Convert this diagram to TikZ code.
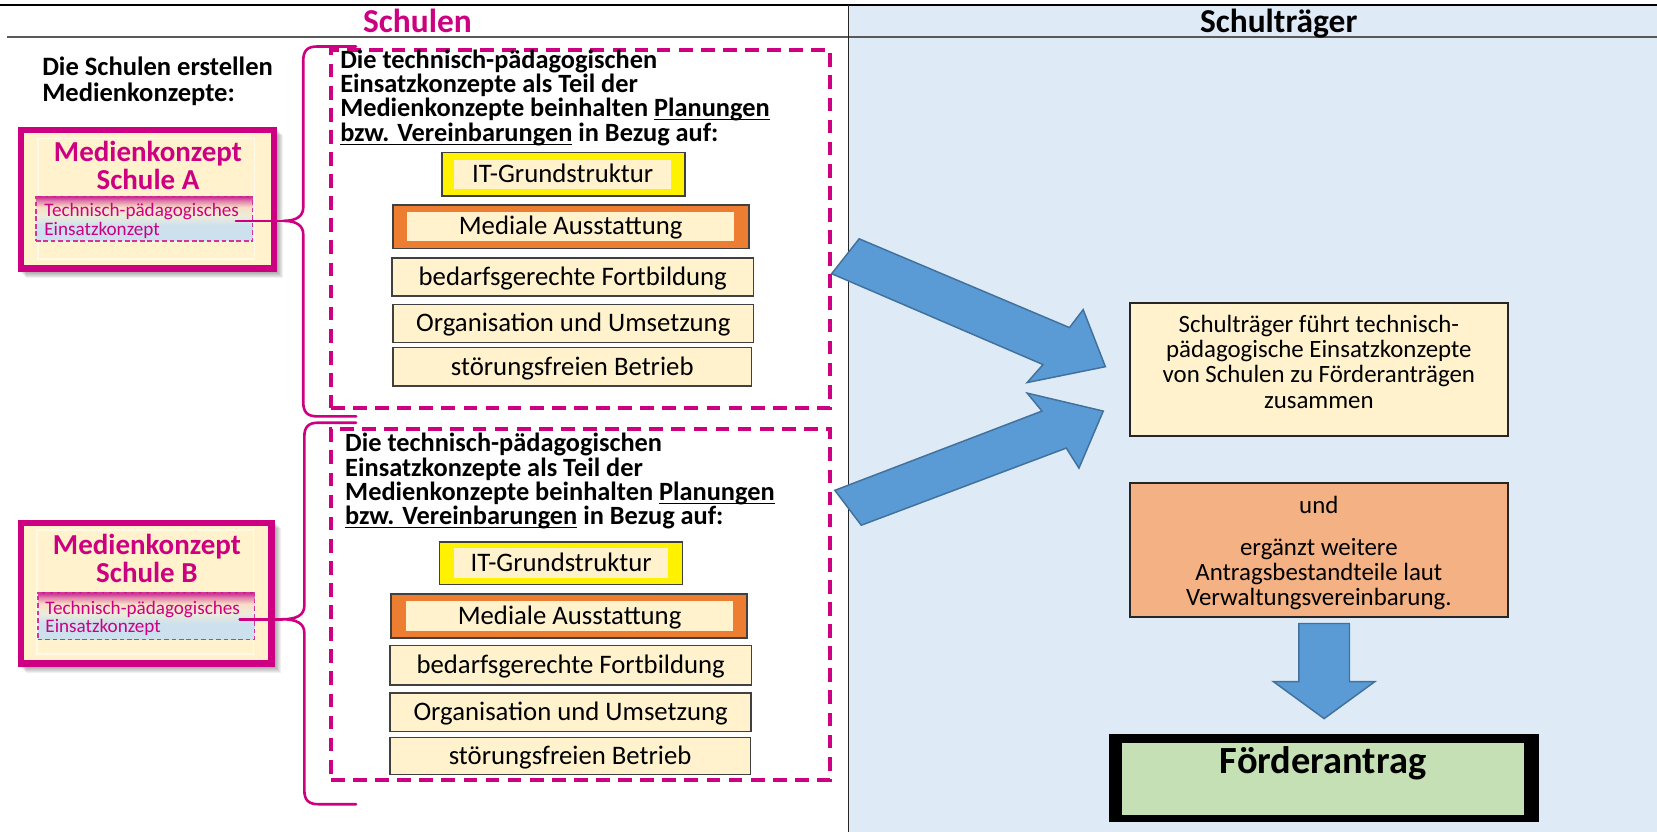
\documentclass[tikz,border=0pt]{standalone}
\usepackage{fontspec}
\setmainfont{Carlito}
\definecolor{mag}{RGB}{204,0,128}
\definecolor{cream}{RGB}{255,242,204}
\definecolor{panelblue}{RGB}{222,235,247}
\definecolor{arrowblue}{RGB}{91,155,213}
\definecolor{arrowedge}{RGB}{65,113,156}
\definecolor{orangeA}{RGB}{237,125,49}
\definecolor{orangebox}{RGB}{244,177,131}
\definecolor{greenbox}{RGB}{197,224,180}
\definecolor{gradblue}{RGB}{205,224,238}
\definecolor{gradpink}{RGB}{200,40,145}
\definecolor{gradmid}{RGB}{236,236,218}
\pgfdeclareverticalshading{techshade}{100bp}{color(0bp)=(gradblue); color(25bp)=(gradblue); color(42bp)=(gradblue); color(53bp)=(gradmid); color(63bp)=(cream!90!gradpink); color(70bp)=(gradpink!55!cream); color(75bp)=(gradpink); color(100bp)=(gradpink)}
\newsavebox{\myulbox}
\newcommand{\myul}[1]{\sbox{\myulbox}{#1}\rlap{\rule[-1.9pt]{\wd\myulbox}{0.7pt}}\usebox{\myulbox}}
\newcommand{\pxu}{0.02cm}
\newcommand{\fixskip}{\lineskiplimit=-30pt\lineskip=0pt}
\newcommand{\fhdr}{\fontsize{18}{20}\selectfont\bfseries}
\newcommand{\fintro}{\fontsize{14.3}{14.2}\selectfont\bfseries\fixskip}
\newcommand{\fblock}{\fontsize{14.2}{13.1}\selectfont\bfseries\fixskip}
\newcommand{\fitem}{\fontsize{14.4}{15}\selectfont}
\newcommand{\fttl}{\fontsize{15.6}{15}\selectfont\bfseries\fixskip}
\newcommand{\ftech}{\fontsize{10.3}{10}\selectfont\fixskip}
\newcommand{\fright}{\fontsize{13.4}{13.6}\selectfont\fixskip}
\newcommand{\ffoerder}{\fontsize{20.7}{22}\selectfont\bfseries}
\begin{document}
\begin{tikzpicture}[x=0.02cm,y=-0.02cm,
  every node/.style={inner sep=0pt, outer sep=0pt},
  hdr/.style={font=\fhdr},
  intro/.style={font=\fintro, align=left},
  blocktxt/.style={font=\fblock, align=left},
  mkbox/.style={draw=mag, line width=3.4pt, fill=cream},
  softshadow/.style={fill=black, opacity=0.06},
  faint/.style={draw=white!55!cream, line width=0.7pt},
  ttl/.style={font=\fttl, text=mag, align=center},
  techbox/.style={draw=mag!80, line width=0.9pt, dash pattern=on 2.5pt off 1.5pt, shading=techshade},
  techtxt/.style={font=\ftech, text=mag, align=left},
  brace/.style={draw=mag, line width=1.4pt, line cap=round, line join=round},
  dashbox/.style={draw=mag, line width=2.2pt, dash pattern=on 7.4pt off 4.5pt},
  itembox/.style={draw=black!75, line width=0.85pt, fill=cream},
  itemtxt/.style={font=\fitem, text height=12pt, text depth=2.9pt},
  rbox/.style={draw=black!85, line width=1.1pt},
  rtxt/.style={font=\fright, align=center},
  bigarrow/.style={fill=arrowblue, draw=arrowedge, line width=0.8pt, line join=miter}
]
\useasboundingbox (0,0) rectangle (1568,787);
% right panel and table lines
\fill[panelblue] (803,4.7) rectangle (1568,787);
\draw[black, line width=0.7pt] (0,4.7) -- (1568,4.7);
\draw[black!65, line width=0.9pt] (7,34.7) -- (1568,34.7);
\draw[black!85, line width=0.7pt] (803,4.7) -- (803,787);
% headers
\node[hdr, text=mag, anchor=base] (hSchulen) at (395,30.7) {Schulen};
\node[hdr, anchor=base] (hTraeger) at (1210,30.7) {Schulträger};
% intro (base = last line)
\node[intro, anchor=base west] (intro) at (40,96) {Die Schulen erstellen\\Medienkonzepte:};

% soft shadows of the two Medienkonzept boxes
\foreach \s in {1,2,...,7} {
  \fill[softshadow] (18+\s,121+\s) rectangle (261+\s,256+\s);
  \fill[softshadow] (18+\s,493+\s) rectangle (259+\s,630+\s);
}

% ---- Schule A ----
\node[mkbox, minimum width=239*\pxu, minimum height=131*\pxu] (boxA) at (139.5,188.5) {};
\draw[faint] (36,131) rectangle (241,245);
\node[ttl, anchor=base] (titleA) at (140,178.9) {Medienkonzept\\Schule A};
\node[techbox, minimum width=205*\pxu, minimum height=42*\pxu] (techA) at (136.5,207) {};
\node[techtxt, anchor=base west] (techAtxt) at (42,222.9) {Technisch-pädagogisches\\Einsatzkonzept};
\coordinate (tipA) at (268,209);
\draw[brace] (337,44) -- (300,44) .. controls (291,44) and (287,48) .. (287,57) -- (287,196)
  .. controls (287,205) and (280,209) .. (tipA) .. controls (280,209) and (287,213) .. (287,222)
  -- (287,381) .. controls (287,390) and (291,394) .. (300,394) -- (337,394);
\draw[brace] ([xshift=-9pt]techA.east |- tipA) -- (tipA);
\node[dashbox, minimum width=472*\pxu, minimum height=339*\pxu] (dashA) at (549.2,216.5) {};
\node[blocktxt, anchor=base west] (blockA) at (322,133.7) {Die technisch-pädagogischen\\Einsatzkonzepte als Teil der\\Medienkonzepte beinhalten \myul{Planungen}\\\myul{bzw. Vereinbarungen} in Bezug auf:};
\node[itembox, fill=yellow, minimum width=230*\pxu, minimum height=41*\pxu] (itA) at (533,165) {};
\node[itemtxt, fill=cream, minimum width=205*\pxu, minimum height=28*\pxu] (itAin) at (532.5,165) {IT-Grundstruktur};
\node[itembox, fill=orangeA, minimum width=337*\pxu, minimum height=41*\pxu] (medA) at (540.5,214.5) {};
\node[itemtxt, fill=cream, minimum width=310*\pxu, minimum height=27.4*\pxu] (medAin) at (540,214.3) {Mediale Ausstattung};
\node[itembox, itemtxt, minimum width=342*\pxu, minimum height=36*\pxu] (fortA) at (542,262) {bedarfsgerechte Fortbildung};
\node[itembox, itemtxt, minimum width=341*\pxu, minimum height=36*\pxu] (orgA) at (542.5,306) {Organisation und Umsetzung};
\node[itembox, itemtxt, minimum width=339*\pxu, minimum height=36*\pxu] (betrA) at (541.5,347) {störungsfreien Betrieb};

% ---- Schule B ----
\node[mkbox, minimum width=237*\pxu, minimum height=133*\pxu] (boxB) at (138.5,561.5) {};
\draw[faint] (35,501.5) rectangle (240,619);
\node[ttl, anchor=base] (titleB) at (139,550.9) {Medienkonzept\\Schule B};
\node[techbox, minimum width=205*\pxu, minimum height=44*\pxu] (techB) at (138.3,583) {};
\node[techtxt, anchor=base west] (techBtxt) at (43,598.9) {Technisch-pädagogisches\\Einsatzkonzept};
\coordinate (tipB) at (267,586);
\draw[brace] (337,400) -- (301,400) .. controls (292,400) and (288,404) .. (288,413) -- (288,573)
  .. controls (288,582) and (281,586) .. (tipB) .. controls (281,586) and (288,590) .. (288,599)
  -- (288,748) .. controls (288,757) and (292,761) .. (301,761) -- (337,761);
\draw[brace] ([xshift=-8pt]techB.east |- tipB) -- (tipB);
\node[dashbox, minimum width=472*\pxu, minimum height=332*\pxu] (dashB) at (549.2,572) {};
\node[blocktxt, anchor=base west] (blockB) at (326.7,496.7) {Die technisch-pädagogischen\\Einsatzkonzepte als Teil der\\Medienkonzepte beinhalten \myul{Planungen}\\\myul{bzw. Vereinbarungen} in Bezug auf:};
\node[itembox, fill=yellow, minimum width=230*\pxu, minimum height=40.5*\pxu] (itB) at (531,533) {};
\node[itemtxt, fill=cream, minimum width=202*\pxu, minimum height=28*\pxu] (itBin) at (531,533) {IT-Grundstruktur};
\node[itembox, fill=orangeA, minimum width=337*\pxu, minimum height=41.6*\pxu] (medB) at (538.5,583) {};
\node[itemtxt, fill=cream, minimum width=310*\pxu, minimum height=28*\pxu] (medBin) at (539,583) {Mediale Ausstattung};
\node[itembox, itemtxt, minimum width=342*\pxu, minimum height=37*\pxu] (fortB) at (540,629.5) {bedarfsgerechte Fortbildung};
\node[itembox, itemtxt, minimum width=341.5*\pxu, minimum height=36.5*\pxu] (orgB) at (540,674) {Organisation und Umsetzung};
\node[itembox, itemtxt, minimum width=341*\pxu, minimum height=35*\pxu] (betrB) at (539.5,715.5) {störungsfreien Betrieb};

% ---- Schultraeger ----
\filldraw[bigarrow] (813,226) -- (1012,310) -- (1025,293) -- (1046,347) -- (972,362) -- (987,345) -- (787,259) -- cycle;
\filldraw[bigarrow] (790,464) -- (986,389) -- (972,372) -- (1044,389) -- (1021,443) -- (1009,424) -- (815,497) -- cycle;
\node[rbox, fill=cream, minimum width=358*\pxu, minimum height=126*\pxu] (stBox) at (1248,350) {};
\node[rtxt, anchor=base] (stTxt) at (1248,386.3) {Schulträger führt technisch-\\pädagogische Einsatzkonzepte\\von Schulen zu Förderanträgen\\zusammen};
\node[rbox, fill=orangebox, minimum width=358*\pxu, minimum height=127*\pxu] (orBox) at (1248,520.5) {};
\node[rtxt, anchor=base] (orTxt) at (1248,573.3) {und\\[8.8pt]ergänzt weitere\\Antragsbestandteile laut\\Verwaltungsvereinbarung.};
\filldraw[bigarrow] (1229,590) -- (1277,590) -- (1277,645) -- (1301,645) -- (1253,680) -- (1205,645) -- (1229,645) -- cycle;
\node[fill=black, minimum width=407*\pxu, minimum height=83*\pxu] (foerder) at (1252.5,736.5) {};
\node[fill=greenbox, minimum width=380*\pxu, minimum height=68*\pxu] (foerderIn) at (1252,737) {};
\node[font=\ffoerder, anchor=base] (foerderTxt) at (1252,731.7) {Förderantrag};
\end{tikzpicture}
\end{document}
